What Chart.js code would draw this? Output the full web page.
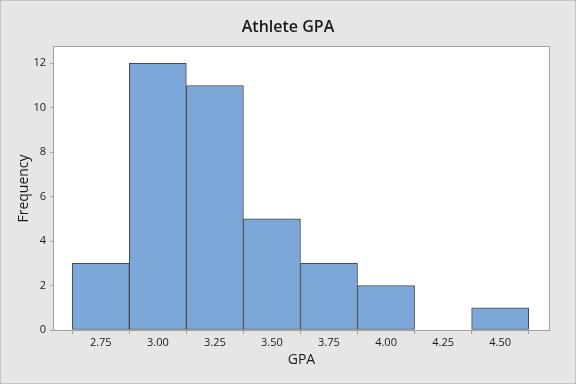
<!DOCTYPE html>
<html>
<head>
<meta charset="utf-8">
<script src="https://cdn.jsdelivr.net/npm/chart.js@4"></script>
<style>
html,body{margin:0;padding:0;background:#e6e6e6;}
#wrap{width:576px;height:384px;position:relative;}
</style>
</head>
<body>
<div id="wrap"><canvas id="c" width="576" height="384"></canvas></div>
<script>
const binCenters = [2.75, 3.00, 3.25, 3.50, 3.75, 4.00, 4.25, 4.50];
const frequencies = [3, 12, 11, 5, 3, 2, 0, 1];
const xTickValues = [2.75, 3.00, 3.25, 3.50, 3.75, 4.00, 4.25, 4.50];
const yTickValues = [0, 2, 4, 6, 8, 10, 12];
const chartTitle = "Athlete GPA";
const xTitle = "GPA";
const yTitle = "Frequency";

const FONT = "'Open Sans', 'Noto Sans', sans-serif";

const framePlugin = {
  id: 'frame',
  beforeDraw(chart) {
    const ctx = chart.ctx;
    ctx.save();
    ctx.fillStyle = '#e6e6e6';
    ctx.fillRect(0, 0, chart.width, chart.height);
    ctx.strokeStyle = '#c4c4c4';
    ctx.lineWidth = 1;
    ctx.strokeRect(0.5, 0.5, chart.width - 1, chart.height - 1);
    const a = chart.chartArea;
    ctx.fillStyle = '#ffffff';
    ctx.fillRect(a.left, a.top, a.right - a.left, a.bottom - a.top);
    ctx.restore();
  },
  beforeDatasetsDraw(chart) {
    const ctx = chart.ctx;
    const a = chart.chartArea;
    ctx.save();
    ctx.strokeStyle = '#a0a0a0';
    ctx.lineWidth = 1;
    ctx.strokeRect(Math.round(a.left) - 0.5, Math.round(a.top) - 0.5,
                   Math.round(a.right - a.left) + 1, Math.round(a.bottom - a.top) + 1);
    ctx.restore();
  },
  afterDraw(chart) {
    const ctx = chart.ctx;
    const a = chart.chartArea;
    ctx.save();
    ctx.fillStyle = '#1a1a1a';
    ctx.textAlign = 'center';
    ctx.textBaseline = 'middle';
    ctx.font = "600 16px " + FONT;
    ctx.fillText(chartTitle, chart.width / 2, 27);
    ctx.font = "14px " + FONT;
    ctx.fillText(xTitle, (a.left + a.right) / 2, 360);
    ctx.translate(24, (a.top + a.bottom) / 2);
    ctx.rotate(-Math.PI / 2);
    ctx.fillText(yTitle, 0, 0);
    ctx.restore();
  }
};

new Chart(document.getElementById('c'), {
  type: 'bar',
  data: {
    datasets: [{
      data: binCenters.map((x, i) => ({x: x, y: frequencies[i]})),
      backgroundColor: '#7ba7d9',
      borderColor: '#4a4a4a',
      borderWidth: 1,
      borderSkipped: false,
      barPercentage: 1,
      categoryPercentage: 1
    }]
  },
  options: {
    responsive: false,
    animation: false,
    layout: {padding: {left: 0, right: 27, top: 47, bottom: 0}},
    plugins: {
      legend: {display: false},
      tooltip: {enabled: false},
      title: {display: false}
    },
    scales: {
      x: {
        type: 'linear',
        offset: false,
        min: 2.545,
        max: 4.714,
        afterBuildTicks: s => { s.ticks = xTickValues.map(v => ({value: v})); },
        afterFit: s => { s.height = 54; },
        grid: {display: true, drawOnChartArea: false, drawTicks: true, tickLength: 4, color: '#a0a0a0'},
        border: {display: false},
        ticks: {
          color: '#1a1a1a',
          font: {family: FONT, size: 11},
          padding: 2,
          maxRotation: 0,
          callback: v => Number(v).toFixed(2)
        }
      },
      y: {
        type: 'linear',
        min: 0,
        max: 12.73,
        afterBuildTicks: s => { s.ticks = yTickValues.map(v => ({value: v})); },
        afterFit: s => { s.width = 54; },
        grid: {display: true, drawOnChartArea: false, drawTicks: true, tickLength: 4, color: '#a0a0a0'},
        border: {display: false},
        ticks: {
          color: '#1a1a1a',
          font: {family: FONT, size: 11},
          padding: 4
        }
      }
    }
  },
  plugins: [framePlugin]
});
</script>
</body>
</html>
